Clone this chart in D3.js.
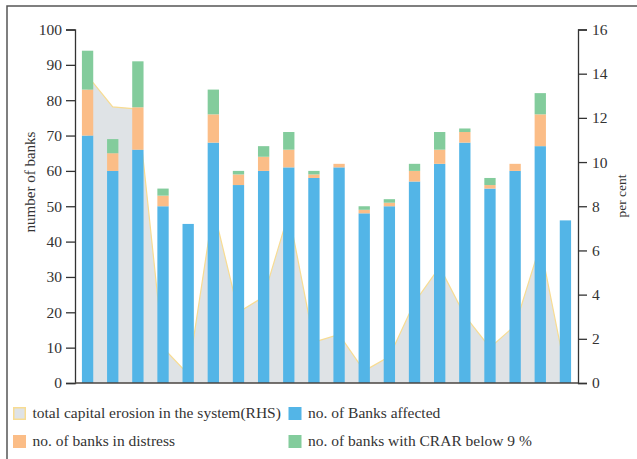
<!DOCTYPE html>
<html>
<head>
<meta charset="utf-8">
<script src="https://cdn.jsdelivr.net/npm/d3@7"></script>
<style>
  html, body { margin: 0; padding: 0; background: #ffffff; }
  svg { display: block; }
  text { font-family: "Liberation Serif", "DejaVu Serif", serif; fill: #333; }
</style>
</head>
<body>
<svg id="chart" width="637" height="459"></svg>
<script>
// ---- data ----
const categories = ["1","2","3","4","5","6","7","8","9","10","11","12","13","14","15","16","17","18","19","20"];
const banksAffected = [70, 60, 66, 50, 45, 68, 56, 60, 61, 58, 61, 48, 50, 57, 62, 68, 55, 60, 67, 46];
const banksDistress = [13, 5, 12, 3, 0, 8, 3, 4, 5, 1, 1, 1, 1, 3, 4, 3, 1, 2, 9, 0];
const banksCrarBelow9 = [11, 4, 13, 2, 0, 7, 1, 3, 5, 1, 0, 1, 1, 2, 5, 1, 2, 0, 6, 0];
const capitalErosion = [13.9, 12.5, 12.4, 1.6, 0.4, 7.9, 3.2, 3.9, 7.7, 1.85, 2.2, 0.55, 1.2, 3.65, 5.25, 3.05, 1.6, 2.6, 6.25, 0.55];
const leftTicks = [0, 10, 20, 30, 40, 50, 60, 70, 80, 90, 100];
const rightTicks = [0, 2, 4, 6, 8, 10, 12, 14, 16];
const seriesNames = ["no. of Banks affected", "no. of banks in distress", "no. of banks with CRAR below 9 %"];
const areaName = "total capital erosion in the system(RHS)";
const leftTitle = "number of banks";
const rightTitle = "per cent";

// ---- styles ----
const colors = { affected: "#53b5e7", distress: "#fbbd87", crar: "#83cc9c", area: "#dfe3e6", areaLine: "#f8dc92" };

const svg = d3.select("#chart");
const plot = { left: 75, right: 578, top: 29.5, bottom: 383 };

// frame
svg.append("rect").attr("x", 7).attr("y", 6).attr("width", 700).attr("height", 500)
  .attr("fill", "none").attr("stroke", "#555").attr("stroke-width", 1.5);

const x = d3.scaleBand().domain(categories).range([plot.left, plot.right])
  .paddingInner(0.55).paddingOuter(0.275);
const yL = d3.scaleLinear().domain([0, 100]).range([plot.bottom, plot.top]);
const yR = d3.scaleLinear().domain([0, 16]).range([plot.bottom, plot.top]);

// area
const areaData = categories.map((c, i) => ({ c, v: capitalErosion[i] }));
const area = d3.area().x(d => x(d.c) + x.bandwidth() / 2).y0(yR(0)).y1(d => yR(d.v));
const line = d3.line().x(d => x(d.c) + x.bandwidth() / 2).y(d => yR(d.v));
svg.append("path").datum(areaData).attr("d", area).attr("fill", colors.area);
svg.append("path").datum(areaData).attr("d", line).attr("fill", "none")
  .attr("stroke", colors.areaLine).attr("stroke-width", 1.2);

// stacked bars
const rows = categories.map((c, i) => ({ c, affected: banksAffected[i], distress: banksDistress[i], crar: banksCrarBelow9[i] }));
const keys = ["affected", "distress", "crar"];
const stacked = d3.stack().keys(keys)(rows);
svg.append("g").selectAll("g").data(stacked).join("g")
  .attr("fill", d => colors[d.key])
  .selectAll("rect").data(d => d).join("rect")
  .attr("x", d => x(d.data.c))
  .attr("width", x.bandwidth())
  .attr("y", d => yL(d[1]))
  .attr("height", d => yL(d[0]) - yL(d[1]));

// axes
const axL = svg.append("g").attr("transform", `translate(${plot.left},0)`)
  .call(d3.axisLeft(yL).tickValues(leftTicks).tickSize(9).tickPadding(4));
const axR = svg.append("g").attr("transform", `translate(${plot.right},0)`)
  .call(d3.axisRight(yR).tickValues(rightTicks).tickSize(9).tickPadding(5));
[axL, axR].forEach(a => {
  a.selectAll("path,line").attr("stroke", "#333").attr("stroke-width", 1.3);
  a.selectAll("text").attr("font-size", 15.5).attr("fill", "#333")
    .style("font-family", '"Liberation Serif", serif');
});
// baseline
svg.append("line").attr("x1", plot.left).attr("x2", plot.right)
  .attr("y1", plot.bottom).attr("y2", plot.bottom).attr("stroke", "#4a4540").attr("stroke-width", 1.5);

// axis titles
svg.append("text").attr("transform", `translate(35,182) rotate(-90)`)
  .attr("text-anchor", "middle").attr("font-size", 15).text(leftTitle);
svg.append("text").attr("transform", `translate(626,196) rotate(-90)`)
  .attr("text-anchor", "middle").attr("font-size", 13.5).text(rightTitle);

// legend
const legendItems = [
  { name: areaName, fill: colors.area, stroke: colors.areaLine, x: 13, y: 407 },
  { name: seriesNames[0], fill: colors.affected, stroke: null, x: 288.5, y: 407 },
  { name: seriesNames[1], fill: colors.distress, stroke: null, x: 13, y: 435 },
  { name: seriesNames[2], fill: colors.crar, stroke: null, x: 288.5, y: 435 }
];
const lg = svg.append("g").selectAll("g").data(legendItems).join("g")
  .attr("transform", d => `translate(${d.x},${d.y})`);
lg.append("rect").attr("x", d => d.stroke ? 0.75 : 0).attr("y", d => d.stroke ? 0.75 : 0)
  .attr("width", d => d.stroke ? 11.5 : 13).attr("height", d => d.stroke ? 11.5 : 13)
  .attr("fill", d => d.fill)
  .attr("stroke", d => d.stroke || "none").attr("stroke-width", 1.5);
lg.append("text").attr("x", 19.5).attr("y", 11).attr("font-size", 15.5).text(d => d.name);
</script>
</body>
</html>
